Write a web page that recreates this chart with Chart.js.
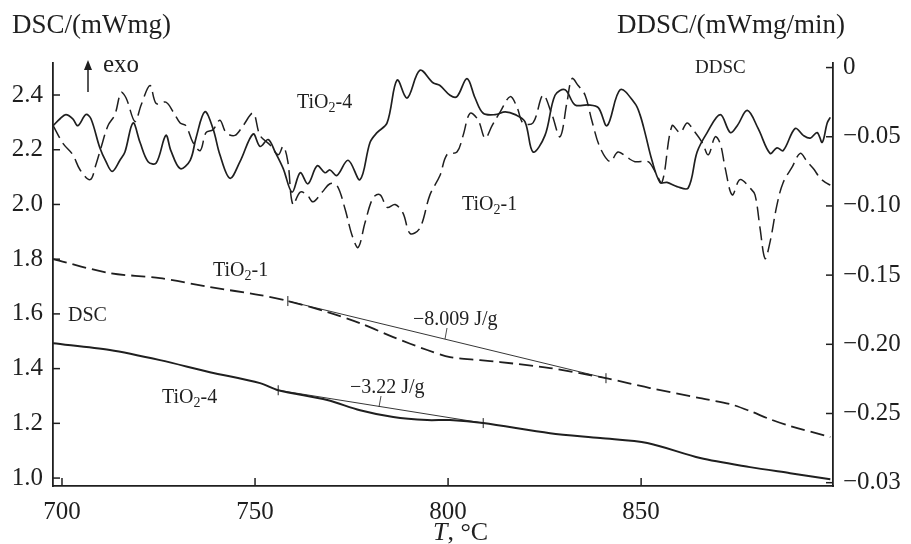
<!DOCTYPE html>
<html>
<head>
<meta charset="utf-8">
<script src="https://cdn.jsdelivr.net/npm/chart.js@4.4.0/dist/chart.umd.min.js"></script>
<style>
  html, body { margin: 0; padding: 0; background: #fff; }
  #wrap { width: 911px; height: 544px; }
</style>
</head>
<body>
<div id="wrap"><canvas id="dsc-chart" width="911" height="544"></canvas></div>
<script>
// Temperature (°C) and DSC signal (mW/mg) for both samples
const dscT1_T = [697.7, 712.4, 725.4, 738.3, 751.3, 758.5, 768.7, 777.2, 785.8, 794.6, 800.5, 808.3, 813.5, 826.4, 840.9, 852.3, 865.3, 873.1, 878.2, 883.4, 888.6, 899.0];
const dscT1 = [1.800, 1.749, 1.731, 1.698, 1.669, 1.647, 1.607, 1.566, 1.515, 1.468, 1.442, 1.431, 1.424, 1.402, 1.365, 1.329, 1.292, 1.270, 1.245, 1.215, 1.190, 1.150];

const dscT4_T = [697.7, 712.4, 725.4, 738.3, 751.3, 756.0, 768.7, 777.2, 785.8, 794.6, 800.5, 809.1, 826.4, 839.4, 851.6, 865.3, 878.2, 888.6, 899.0];
const dscT4 = [1.493, 1.468, 1.431, 1.387, 1.347, 1.321, 1.285, 1.248, 1.223, 1.212, 1.212, 1.201, 1.164, 1.146, 1.128, 1.073, 1.040, 1.018, 0.996];

// integration baselines (start / end points)
const baseT1_T = [758.5, 840.9];
const baseT1 = [1.647, 1.365];
const baseT4_T = [756.0, 809.1];
const baseT4 = [1.321, 1.201];

// DDSC (mW/mg/min), TiO2-4
const ddscT4_T = [697.7, 699.5, 701.0, 702.8, 704.1, 706.2, 707.5, 709.8, 711.4, 713.0, 715.0, 716.3, 718.4, 720.2, 722.3, 724.4, 726.9, 728.2, 730.6, 733.2, 734.7, 737.0, 739.1, 740.9, 743.5, 746.1, 749.5, 751.3, 753.4, 755.2, 757.3, 759.6, 761.7, 763.7, 766.1, 768.1, 769.4, 771.2, 774.1, 777.2, 779.8, 781.6, 784.2, 786.8, 789.4, 792.7, 796.1, 797.9, 800.5, 802.3, 804.9, 807.0, 809.1, 812.2, 814.8, 817.4, 819.9, 822.0, 825.1, 827.7, 830.3, 832.9, 836.3, 838.9, 841.2, 844.6, 848.4, 849.7, 851.0, 852.8, 854.9, 856.7, 859.3, 862.2, 864.5, 867.1, 870.5, 873.1, 874.9, 877.5, 880.3, 883.4, 885.2, 886.8, 889.9, 892.0, 893.8, 895.6, 896.9, 898.2, 899.0];
const ddscT4 = [-0.042, -0.037, -0.034, -0.037, -0.042, -0.034, -0.037, -0.058, -0.068, -0.075, -0.067, -0.061, -0.040, -0.054, -0.068, -0.069, -0.049, -0.060, -0.073, -0.067, -0.051, -0.032, -0.044, -0.063, -0.080, -0.068, -0.048, -0.057, -0.052, -0.061, -0.073, -0.090, -0.076, -0.084, -0.071, -0.076, -0.074, -0.078, -0.067, -0.081, -0.054, -0.047, -0.040, -0.009, -0.022, -0.002, -0.011, -0.013, -0.020, -0.021, -0.008, -0.022, -0.033, -0.034, -0.032, -0.034, -0.039, -0.061, -0.049, -0.020, -0.016, -0.027, -0.027, -0.029, -0.042, -0.016, -0.026, -0.034, -0.047, -0.067, -0.083, -0.083, -0.086, -0.087, -0.061, -0.047, -0.034, -0.047, -0.042, -0.031, -0.044, -0.062, -0.058, -0.060, -0.044, -0.049, -0.051, -0.047, -0.054, -0.040, -0.036];

// DDSC (mW/mg/min), TiO2-1
const ddscT1_T = [697.7, 700.3, 702.8, 704.7, 707.3, 708.8, 710.1, 711.9, 713.7, 715.3, 716.6, 718.9, 720.5, 722.8, 724.4, 726.9, 728.8, 730.6, 732.1, 733.9, 735.8, 737.3, 739.1, 740.9, 742.5, 744.8, 746.9, 749.5, 751.3, 753.9, 756.0, 757.3, 758.5, 759.8, 761.7, 763.5, 765.0, 767.4, 769.4, 771.2, 773.3, 775.1, 776.7, 778.5, 780.6, 782.4, 784.2, 786.3, 788.3, 790.2, 792.7, 795.3, 797.9, 799.7, 802.3, 803.9, 805.7, 807.8, 809.6, 811.4, 813.5, 816.1, 817.9, 819.4, 822.0, 824.6, 826.9, 829.0, 830.8, 832.1, 833.7, 835.5, 837.3, 839.4, 842.0, 844.0, 846.4, 848.4, 851.8, 853.6, 855.4, 858.0, 860.1, 861.9, 863.5, 865.8, 867.4, 869.2, 870.5, 871.8, 873.6, 875.6, 878.2, 879.5, 880.8, 882.1, 883.4, 885.2, 886.8, 889.1, 891.2, 893.0, 894.6, 896.4, 897.7, 899.0];
const ddscT1 = [-0.042, -0.055, -0.063, -0.074, -0.081, -0.070, -0.058, -0.042, -0.034, -0.018, -0.022, -0.039, -0.027, -0.013, -0.026, -0.025, -0.032, -0.040, -0.042, -0.054, -0.060, -0.047, -0.045, -0.038, -0.047, -0.049, -0.042, -0.033, -0.049, -0.056, -0.063, -0.057, -0.068, -0.099, -0.090, -0.092, -0.097, -0.090, -0.084, -0.085, -0.102, -0.121, -0.130, -0.112, -0.094, -0.092, -0.101, -0.099, -0.105, -0.120, -0.116, -0.092, -0.078, -0.063, -0.061, -0.049, -0.033, -0.038, -0.051, -0.042, -0.032, -0.021, -0.029, -0.040, -0.040, -0.020, -0.034, -0.050, -0.025, -0.008, -0.013, -0.020, -0.039, -0.058, -0.068, -0.061, -0.065, -0.068, -0.068, -0.075, -0.083, -0.042, -0.047, -0.040, -0.045, -0.054, -0.063, -0.050, -0.055, -0.073, -0.092, -0.081, -0.087, -0.092, -0.116, -0.138, -0.126, -0.099, -0.083, -0.072, -0.062, -0.068, -0.073, -0.080, -0.083, -0.085];

// axis ticks
const xTicks = [700, 750, 800, 850];
const leftTicks = [1.0, 1.2, 1.4, 1.6, 1.8, 2.0, 2.2, 2.4];
const leftTickLabels = ['1.0', '1.2', '1.4', '1.6', '1.8', '2.0', '2.2', '2.4'];
const rightTicks = [-0.30, -0.25, -0.20, -0.15, -0.10, -0.05, 0];
const rightTickLabels = ['\u22120.03', '\u22120.25', '\u22120.20', '\u22120.15', '\u22120.10', '\u22120.05', '0'];

const ink = '#1f1f1f';
const serif = '"Liberation Serif", "Times New Roman", serif';

const pts = (xs, ys) => xs.map((x, i) => ({ x: x, y: ys[i] }));

function chem(ctx, x, y, size, pre, sub, post) {
    ctx.font = size + 'px ' + serif;
    ctx.fillText(pre, x, y);
    x += ctx.measureText(pre).width;
    ctx.font = Math.round(size * 0.68) + 'px ' + serif;
    ctx.fillText(sub, x, y + size * 0.22);
    x += ctx.measureText(sub).width;
    ctx.font = size + 'px ' + serif;
    ctx.fillText(post, x, y);
}

function seg(ctx, x1, y1, x2, y2) {
    ctx.beginPath();
    ctx.moveTo(x1, y1);
    ctx.lineTo(x2, y2);
    ctx.stroke();
}

// inward tick marks, titles and in-plot labels
const decor = {
    id: 'decor',
    afterDraw(chart) {
        const { ctx, chartArea: a, scales } = chart;
        ctx.save();
        ctx.strokeStyle = ink;
        ctx.lineWidth = 1.5;
        scales.x.ticks.forEach(t => {
            const px = scales.x.getPixelForValue(t.value);
            seg(ctx, px, a.bottom, px, a.bottom - 8);
        });
        scales.y.ticks.forEach(t => {
            const py = scales.y.getPixelForValue(t.value);
            seg(ctx, a.left, py, a.left + 7, py);
        });
        scales.y2.ticks.forEach(t => {
            const py = scales.y2.getPixelForValue(t.value);
            seg(ctx, a.right, py, a.right - 7, py);
        });

        ctx.fillStyle = ink;
        ctx.textAlign = 'left';
        ctx.textBaseline = 'alphabetic';

        // axis titles
        ctx.font = '27px ' + serif;
        ctx.fillText('DSC/(mWmg)', 12, 33);
        ctx.fillText('DDSC/(mWmg/min)', 617, 33);
        ctx.font = 'italic 26px ' + serif;
        ctx.fillText('T', 433, 540);
        const tw = ctx.measureText('T').width;
        ctx.font = '26px ' + serif;
        ctx.fillText(', \u00b0C', 433 + tw, 540);

        // exo arrow
        ctx.lineWidth = 1.5;
        seg(ctx, 88, 92, 88, 66);
        ctx.beginPath();
        ctx.moveTo(88, 60);
        ctx.lineTo(84, 70);
        ctx.lineTo(92, 70);
        ctx.closePath();
        ctx.fill();
        ctx.font = '25px ' + serif;
        ctx.fillText('exo', 103, 72);

        // curve labels
        chem(ctx, 297, 108, 20, 'TiO', '2', '-4');
        chem(ctx, 462, 210, 20, 'TiO', '2', '-1');
        chem(ctx, 213, 276, 20, 'TiO', '2', '-1');
        chem(ctx, 162, 403, 20, 'TiO', '2', '-4');
        ctx.font = '19px ' + serif;
        ctx.fillText('DDSC', 695, 73);
        ctx.font = '20px ' + serif;
        ctx.fillText('DSC', 68, 321);

        // peak areas with leader lines
        ctx.fillText('\u22128.009 J/g', 413, 325);
        ctx.fillText('\u22123.22 J/g', 350, 393);
        ctx.lineWidth = 0.8;
        seg(ctx, 447, 328, 445, 339);
        seg(ctx, 381, 396, 379, 407);
        ctx.restore();
    }
};

const fixTicks = values => scale => { scale.ticks = values.map(v => ({ value: v })); };

new Chart(document.getElementById('dsc-chart').getContext('2d'), {
    type: 'line',
    data: {
        datasets: [
            { data: pts(ddscT4_T, ddscT4), yAxisID: 'y2', borderColor: ink, borderWidth: 1.7, tension: 0.35 },
            { data: pts(ddscT1_T, ddscT1), yAxisID: 'y2', borderColor: ink, borderWidth: 1.5, borderDash: [14, 6], tension: 0.35 },
            { data: pts(dscT1_T, dscT1), yAxisID: 'y', borderColor: ink, borderWidth: 1.8, borderDash: [14, 6], tension: 0.3 },
            { data: pts(dscT4_T, dscT4), yAxisID: 'y', borderColor: ink, borderWidth: 2, tension: 0.3 },
            { data: pts(baseT1_T, baseT1), yAxisID: 'y', borderColor: ink, borderWidth: 0.9,
              pointRadius: 5, pointStyle: 'line', pointRotation: 90, pointBorderColor: ink, pointBorderWidth: 1 },
            { data: pts(baseT4_T, baseT4), yAxisID: 'y', borderColor: ink, borderWidth: 0.9,
              pointRadius: 5, pointStyle: 'line', pointRotation: 90, pointBorderColor: ink, pointBorderWidth: 1 }
        ]
    },
    options: {
        responsive: false,
        animation: false,
        events: [],
        layout: { padding: { top: 63, left: 0, right: 0, bottom: 0 } },
        elements: { point: { radius: 0 } },
        plugins: { legend: { display: false }, tooltip: { enabled: false } },
        scales: {
            x: {
                type: 'linear',
                min: 697.67,
                max: 899.7,
                afterBuildTicks: fixTicks(xTicks),
                afterFit: s => { s.height = 58; },
                grid: { display: false, drawTicks: false },
                border: { display: true, color: ink, width: 1.8 },
                ticks: { color: ink, font: { family: serif, size: 25 }, padding: 11, maxRotation: 0 }
            },
            y: {
                position: 'left',
                min: 0.971,
                max: 2.517,
                afterBuildTicks: fixTicks(leftTicks),
                afterFit: s => { s.width = 53; },
                grid: { display: false, drawTicks: false },
                border: { display: true, color: ink, width: 1.8 },
                ticks: {
                    color: ink, font: { family: serif, size: 25 }, padding: 10,
                    callback: v => leftTickLabels[leftTicks.findIndex(t => Math.abs(t - v) < 1e-6)]
                }
            },
            y2: {
                position: 'right',
                min: -0.3024,
                max: 0.0033,
                afterBuildTicks: fixTicks(rightTicks),
                afterFit: s => { s.width = 78; },
                grid: { display: false, drawTicks: false },
                border: { display: true, color: ink, width: 1.8 },
                ticks: {
                    color: ink, font: { family: serif, size: 25 }, padding: 10,
                    callback: v => rightTickLabels[rightTicks.findIndex(t => Math.abs(t - v) < 1e-6)]
                }
            }
        }
    },
    plugins: [decor]
});
</script>
</body>
</html>
